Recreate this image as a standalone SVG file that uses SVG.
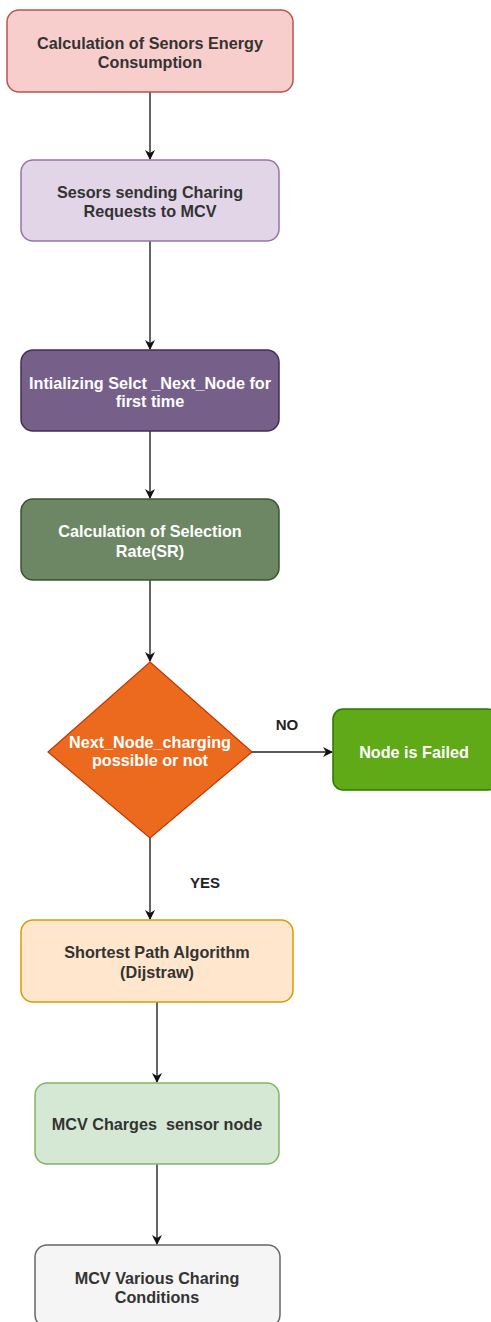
<svg xmlns="http://www.w3.org/2000/svg" width="491" height="1322" viewBox="0 0 491 1322">
  <defs>
    <marker id="arrow" viewBox="0 0 10 10" refX="9" refY="5" markerWidth="10" markerHeight="10" markerUnits="userSpaceOnUse" orient="auto">
      <path d="M0,0 L10,5 L0,10 L3,5 Z" fill="#111"/>
    </marker>
  </defs>
  <style>
    text { font-family: "Liberation Sans", Arial, sans-serif; font-weight: bold; font-size: 16.2px; text-anchor: middle; }
    .dark { fill: #333333; }
    .light { fill: #ffffff; }
    .edge { stroke: #222; stroke-width: 1.4; fill: none; marker-end: url(#arrow); }
    .lbl { fill: #222; font-size: 15px; }
  </style>
  <rect width="491" height="1322" fill="#ffffff"/>

  <g id="connectors">
    <line class="edge" x1="150" y1="92" x2="150" y2="159"/>
    <line class="edge" x1="150" y1="241" x2="150" y2="349"/>
    <line class="edge" x1="150" y1="431" x2="150" y2="498"/>
    <line class="edge" x1="150" y1="580" x2="150" y2="661"/>
    <line class="edge" x1="252" y1="752" x2="332" y2="752"/>
    <text class="lbl" x="287" y="730">NO</text>
    <line class="edge" x1="150" y1="838" x2="150" y2="919"/>
    <text class="lbl" x="205" y="888">YES</text>
    <line class="edge" x1="157" y1="1002" x2="157" y2="1082"/>
    <line class="edge" x1="157" y1="1164" x2="157" y2="1244"/>
  </g>

  <g id="energy">
    <rect x="7" y="10" width="286" height="82" rx="12" fill="#f8cecc" stroke="#b85450" stroke-width="1.5"/>
    <text class="dark" x="150" y="49">Calculation of Senors Energy</text>
    <text class="dark" x="150" y="68">Consumption</text>
  </g>

  <g id="requests">
    <rect x="21" y="160" width="258" height="81" rx="12" fill="#e1d5e7" stroke="#9673a6" stroke-width="1.5"/>
    <text class="dark" x="150" y="198">Sesors sending Charing</text>
    <text class="dark" x="150" y="217">Requests to MCV</text>
  </g>

  <g id="init">
    <rect x="21" y="350" width="258" height="81" rx="12" fill="#76608a" stroke="#432d57" stroke-width="1.5"/>
    <text class="light" x="150" y="389">Intializing Selct _Next_Node for</text>
    <text class="light" x="150" y="407">first time</text>
  </g>

  <g id="selection">
    <rect x="21" y="499" width="258" height="81" rx="12" fill="#6d8764" stroke="#3a5431" stroke-width="1.5"/>
    <text class="light" x="150" y="537">Calculation of Selection</text>
    <text class="light" x="150" y="557">Rate(SR)</text>
  </g>

  <g id="decision">
    <polygon points="150,662 252,752 150,838 48,752" fill="#ec6a1e" stroke="#c73500" stroke-width="1.2"/>
    <text class="light" x="150" y="748">Next_Node_charging</text>
    <text class="light" x="150" y="766">possible or not</text>
  </g>

  <g id="failed">
    <rect x="333" y="709" width="165" height="81" rx="10" fill="#60a917" stroke="#2d7600" stroke-width="1.5"/>
    <text class="light" x="414" y="758">Node is Failed</text>
  </g>

  <g id="shortest">
    <rect x="21" y="920" width="272" height="82" rx="12" fill="#ffe6cc" stroke="#d79b00" stroke-width="1.5"/>
    <text class="dark" x="157" y="958">Shortest Path Algorithm</text>
    <text class="dark" x="157" y="978">(Dijstraw)</text>
  </g>

  <g id="charges">
    <rect x="35" y="1083" width="244" height="81" rx="12" fill="#d5e8d4" stroke="#82b366" stroke-width="1.5"/>
    <text class="dark" x="157" y="1130" xml:space="preserve">MCV Charges  sensor node</text>
  </g>

  <g id="conditions">
    <rect x="35" y="1245" width="245" height="82" rx="12" fill="#f5f5f5" stroke="#666666" stroke-width="1.5"/>
    <text class="dark" x="157" y="1284">MCV Various Charing</text>
    <text class="dark" x="157" y="1303">Conditions</text>
  </g>
</svg>
